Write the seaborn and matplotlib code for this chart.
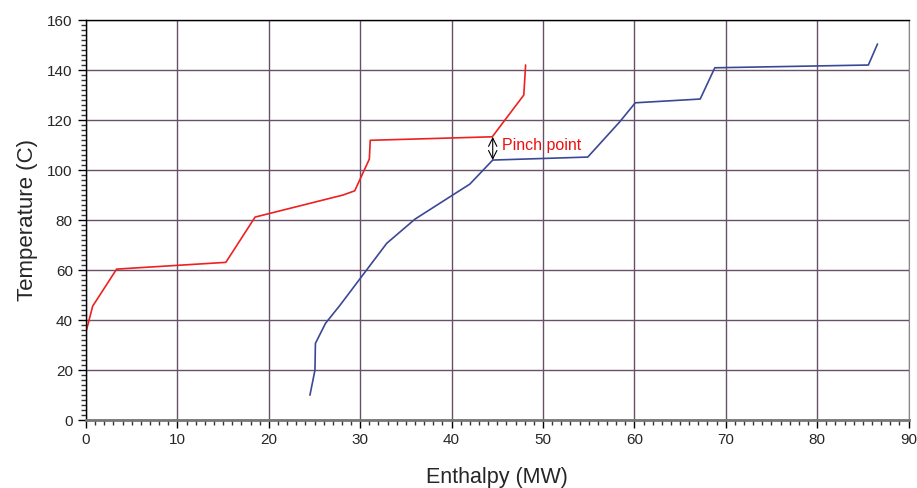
import pandas as pd
import matplotlib
matplotlib.use("Agg")
import matplotlib.pyplot as plt
import seaborn as sns
from matplotlib.ticker import MultipleLocator

# Hot composite curve (red)
hot_h = [0.0, 0.73, 3.35, 15.3, 18.5, 28.1, 29.4, 31.0, 31.1, 44.45, 47.9, 48.1]
hot_t = [35.3, 45.6, 60.4, 63.1, 81.2, 90.0, 91.7, 104.4, 111.9, 113.3, 130.0, 142.0]

# Cold composite curve (blue)
cold_h = [24.5, 25.05, 25.1, 26.2, 27.8, 32.9, 36.0, 42.0, 44.5, 54.9, 58.4, 60.1, 67.2, 68.8, 85.6, 86.6]
cold_t = [10.0, 20.0, 30.7, 38.7, 46.0, 70.7, 80.4, 94.4, 104.0, 105.2, 119.3, 126.9, 128.4, 140.9, 142.0, 150.4]

pinch_h = 44.5
pinch_lo, pinch_hi = 104.0, 113.3

sns.set_style("white")
plt.rcParams["font.family"] = ["Liberation Sans", "DejaVu Sans"]

hot = pd.DataFrame({"h": hot_h, "t": hot_t})
cold = pd.DataFrame({"h": cold_h, "t": cold_t})

fig = plt.figure(figsize=(9.17, 4.88), dpi=100)
ax = fig.add_axes([0.0938, 0.139, 0.897, 0.820])

sns.lineplot(data=hot, x="h", y="t", sort=False, color="#ee2020", lw=1.2, ax=ax)
sns.lineplot(data=cold, x="h", y="t", sort=False, color="#3a4896", lw=1.2, ax=ax)

# pinch marker
ax.annotate("", xy=(pinch_h, pinch_lo), xytext=(pinch_h, pinch_hi),
            arrowprops=dict(arrowstyle="<->", color="black", lw=0.8,
                            shrinkA=0, shrinkB=0, mutation_scale=15))
ax.text(pinch_h + 1.0, 110, "Pinch point", color="#ee1010", fontsize=11.5, va="center")

ax.set_xlim(0, 90)
ax.set_ylim(0, 160)
ax.xaxis.set_major_locator(MultipleLocator(10))
ax.xaxis.set_minor_locator(MultipleLocator(1))
ax.yaxis.set_major_locator(MultipleLocator(20))
ax.yaxis.set_minor_locator(MultipleLocator(2))
ax.tick_params(which="major", direction="out", length=6, width=1, color="black",
               labelsize=11, left=True, bottom=True)
ax.tick_params(which="minor", direction="out", length=3.5, width=1, color="#333333",
               left=True, bottom=True)

ax.grid(True, which="major", color="#6a5066", lw=1)
ax.set_axisbelow(True)
for s in ["top", "left"]:
    ax.spines[s].set_color("black")
    ax.spines[s].set_linewidth(1)
ax.spines["right"].set_color("#888888")
ax.spines["bottom"].set_color("#777777")
ax.spines["bottom"].set_linewidth(2)

ax.set_xlabel("Enthalpy (MW)", fontsize=15.5, labelpad=14)
ax.set_ylabel("Temperature (C)", fontsize=16, labelpad=7)

fig.savefig("out.png", dpi=100)
